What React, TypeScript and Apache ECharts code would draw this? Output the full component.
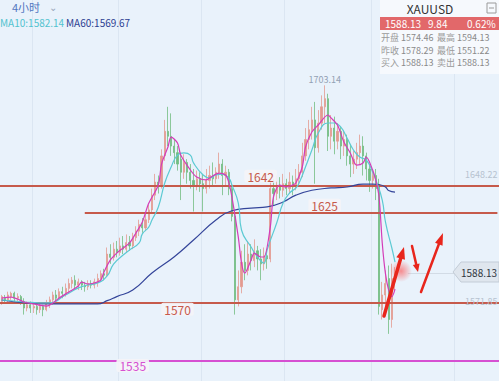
import React, { useEffect, useRef } from 'react';
import * as echarts from 'echarts';

// 4-hour bars (only the first 124 slots hold data; the rest is empty room on the right)
const categories: string[] = Array.from({ length: 156 }, (_, i) => `K${i + 1}`);

// [open, close, low, high]
const candles: number[][] = [
  [1571, 1574, 1569, 1575], [1573, 1572, 1570, 1575], [1572, 1575, 1570, 1577], [1574, 1576, 1572, 1577],
  [1576, 1573, 1571, 1577], [1573, 1574, 1571, 1576], [1574, 1571, 1569, 1575], [1571, 1567, 1563, 1573],
  [1567, 1569, 1565, 1571], [1569, 1567, 1564, 1571], [1567, 1568, 1564, 1570], [1568, 1566, 1563, 1570],
  [1566, 1568, 1564, 1570], [1568, 1566, 1562, 1569], [1566, 1570, 1565, 1572], [1569, 1572, 1567, 1574],
  [1572, 1575, 1569, 1577], [1575, 1573, 1571, 1578], [1573, 1577, 1572, 1579], [1577, 1576, 1573, 1580],
  [1576, 1579, 1574, 1582], [1579, 1582, 1576, 1585], [1582, 1584, 1579, 1586], [1584, 1581, 1579, 1587],
  [1581, 1583, 1578, 1585], [1583, 1581, 1578, 1584], [1581, 1580, 1577, 1583], [1580, 1582, 1578, 1584],
  [1582, 1581, 1579, 1584], [1581, 1583, 1579, 1585], [1583, 1585, 1580, 1588], [1585, 1588, 1583, 1590],
  [1588, 1587, 1584, 1591], [1587, 1600, 1586, 1604], [1600, 1598, 1594, 1606], [1598, 1603, 1596, 1607],
  [1603, 1601, 1598, 1608], [1601, 1605, 1599, 1610], [1605, 1603, 1600, 1611], [1603, 1607, 1601, 1612],
  [1607, 1605, 1602, 1611], [1605, 1610, 1603, 1613], [1610, 1614, 1608, 1617], [1614, 1618, 1611, 1621],
  [1618, 1616, 1613, 1622], [1616, 1621, 1614, 1625], [1621, 1627, 1619, 1630], [1627, 1636, 1625, 1640],
  [1636, 1644, 1633, 1649], [1644, 1642, 1637, 1648], [1642, 1660, 1640, 1664], [1660, 1675, 1657, 1682],
  [1675, 1672, 1666, 1690], [1672, 1666, 1660, 1686], [1666, 1662, 1655, 1670], [1662, 1655, 1651, 1666],
  [1658, 1650, 1633, 1662], [1650, 1656, 1646, 1661], [1656, 1650, 1643, 1658], [1650, 1645, 1640, 1655],
  [1645, 1642, 1626, 1652], [1642, 1646, 1639, 1651], [1646, 1643, 1638, 1650], [1643, 1640, 1626, 1649],
  [1640, 1645, 1637, 1652], [1645, 1648, 1640, 1654], [1648, 1646, 1641, 1656], [1646, 1650, 1643, 1653],
  [1650, 1655, 1646, 1662], [1655, 1648, 1636, 1658], [1648, 1650, 1641, 1654], [1650, 1640, 1636, 1652],
  [1640, 1623, 1620, 1643], [1623, 1572, 1563, 1625], [1572, 1580, 1568, 1590], [1580, 1595, 1576, 1602],
  [1595, 1590, 1584, 1606], [1590, 1600, 1587, 1608], [1600, 1596, 1590, 1606], [1596, 1602, 1592, 1609],
  [1602, 1597, 1590, 1605], [1597, 1594, 1584, 1603], [1594, 1599, 1590, 1604], [1599, 1597, 1591, 1603],
  [1597, 1640, 1595, 1647], [1640, 1637, 1630, 1646], [1637, 1642, 1633, 1648], [1642, 1639, 1634, 1647],
  [1639, 1643, 1635, 1649], [1643, 1640, 1636, 1646], [1640, 1644, 1637, 1650], [1644, 1641, 1636, 1648],
  [1641, 1646, 1639, 1652], [1646, 1650, 1641, 1655], [1650, 1660, 1647, 1668], [1660, 1670, 1657, 1677],
  [1670, 1676, 1664, 1682], [1676, 1682, 1670, 1690], [1682, 1665, 1643, 1693], [1665, 1680, 1662, 1688],
  [1680, 1690, 1676, 1697], [1690, 1695, 1680, 1703.14], [1695, 1672, 1663, 1698], [1672, 1677, 1664, 1685],
  [1677, 1669, 1661, 1684], [1669, 1675, 1664, 1680], [1675, 1666, 1658, 1678], [1666, 1670, 1660, 1675],
  [1670, 1660, 1654, 1673], [1660, 1655, 1647, 1667], [1655, 1658, 1649, 1663], [1658, 1662, 1652, 1668],
  [1662, 1666, 1655, 1673], [1666, 1660, 1648, 1672], [1660, 1652, 1645, 1662], [1652, 1645, 1638, 1655],
  [1645, 1648, 1640, 1651], [1648, 1640, 1633, 1652], [1641, 1568, 1563, 1646], [1566, 1575, 1560, 1583],
  [1575, 1582, 1563, 1590], [1585, 1560, 1551.22, 1593], [1560, 1585, 1555, 1594.13], [1583, 1588.13, 1578, 1592],
];

// Moving averages at the bars where they could be read
const ma5Idx = [0, 3, 5, 7, 10, 14, 16, 18, 21, 24, 25, 27, 29, 31, 32, 34, 36, 38, 40, 42, 44, 46, 49, 50, 52, 53, 55, 56, 59, 61, 64, 65, 68, 70, 71, 72, 74, 75, 76, 78, 79, 81, 82, 84, 85, 87, 89, 91, 92, 94, 95, 97, 99, 102, 103, 105, 107, 109, 111, 113, 114, 116, 117, 118, 119, 120, 121, 122, 123];
const ma5Val = [1573.1, 1573.7, 1572.5, 1570.7, 1569.5, 1568.2, 1570.1, 1573.1, 1576.8, 1580.5, 1582.9, 1581.7, 1582.3, 1584.1, 1589.0, 1596.4, 1600.6, 1603.7, 1606.8, 1612.9, 1619.6, 1631, 1642.2, 1655, 1665.4, 1671.5, 1667.9, 1660.5, 1651.4, 1647.1, 1645.3, 1646.5, 1649.5, 1648.3, 1644.0, 1634.9, 1610.4, 1594.5, 1588.4, 1596.4, 1600.6, 1598.2, 1598.2, 1616.5, 1634.9, 1642.2, 1641.0, 1642.2, 1643.4, 1653.2, 1665.4, 1674.6, 1678.9, 1685.0, 1683.2, 1678.9, 1668.5, 1661.8, 1654.4, 1655.7, 1659.3, 1651.4, 1645, 1635, 1606.8, 1588, 1578, 1574, 1578.6];

const ma10Idx = [0, 4, 7, 14, 15, 20, 24, 27, 30, 33, 35, 38, 40, 43, 44, 46, 47, 49, 51, 53, 55, 57, 59, 60, 63, 65, 67, 69, 71, 72, 74, 75, 78, 80, 82, 83, 86, 88, 90, 92, 93, 95, 97, 99, 102, 104, 106, 108, 110, 112, 114, 116, 117, 119, 120, 122, 123];
const ma10Val = [1571.9, 1571.3, 1570.7, 1570.1, 1570.1, 1575, 1579.3, 1581.1, 1582.3, 1586.6, 1593.9, 1599.4, 1602.5, 1606.8, 1612.3, 1616.5, 1620.8, 1628.8, 1643.4, 1653.2, 1660.5, 1661.8, 1660.5, 1655.7, 1648.3, 1646.5, 1648.3, 1648.9, 1646.5, 1642.2, 1631.2, 1614.7, 1604.3, 1598.2, 1594.5, 1602.5, 1619, 1631.2, 1637.3, 1640.4, 1643.4, 1653.2, 1663.6, 1674, 1680.1, 1680.1, 1677.7, 1670.9, 1663.6, 1659.3, 1657.5, 1650.2, 1645.3, 1633, 1619.6, 1603.7, 1595.1];

const ma60Idx = [0, 15, 30, 33, 36, 41, 47, 54, 60, 67, 72, 78, 83, 88, 92, 97, 103, 108, 113, 116, 118, 120, 121, 123];
const ma60Val = [1571.9, 1569.5, 1569.5, 1571.5, 1574, 1578, 1588.4, 1598.4, 1608.6, 1620.8, 1626.5, 1628.1, 1628.8, 1631.8, 1636, 1639, 1640.4, 1641, 1642.8, 1642.8, 1642.5, 1641, 1638.8, 1637.9];

// Support / resistance levels
const levelValues = [1642, 1625, 1570, 1535];
const levelStartIdx = [-1, 26, -1, -1];
const levelLabelIdx = [81, 101, 55, 41];
const levelLabelOffset = [-9, -8, 6, 5];
const levelColors = ['#c65a4b', '#c65a4b', '#c65a4b', '#d650d2'];

const lastPrice = 1588.13;
const peakHigh = 1703.14;
const peakIdx = 101;
const sideValues = [1648.22, 1571.85];

const gridLineIdx = [10, 37, 63, 89, 116, 142];

const FONT = '"Noto Sans CJK SC", "Noto Sans", sans-serif';

const pairs = (idx: number[], val: number[]) => idx.map((i, k) => [categories[i], val[k]]);

function arrow(x1: number, y1: number, x2: number, y2: number, headLen: number, headHalf: number, width: number) {
  const dx = x2 - x1, dy = y2 - y1;
  const len = Math.hypot(dx, dy);
  const ux = dx / len, uy = dy / len;
  const px = -uy, py = ux;
  const bx = x2 - ux * headLen, by = y2 - uy * headLen;
  const color = '#e8261c';
  return [
    { type: 'line', z: 120, shape: { x1, y1, x2: bx, y2: by }, style: { stroke: color, lineWidth: width, lineCap: 'round' } },
    { type: 'polygon', z: 120, shape: { points: [[x2, y2], [bx + px * headHalf, by + py * headHalf], [bx - px * headHalf, by - py * headHalf]] }, style: { fill: color } },
  ];
}

function txt(x: number, y: number, text: string, fill: string, size: number, align = 'left') {
  return { type: 'text', z: 110, x, y, style: { text, fill, font: `${size}px ${FONT}`, textAlign: align, textVerticalAlign: 'middle' } };
}

export default function App() {
  const ref = useRef<HTMLDivElement>(null);
  useEffect(() => {
    if (!ref.current) return;
    const chart = echarts.init(ref.current, null, { renderer: 'svg' });

    const markLineData: any[] = levelValues.map((v, i) => {
      const ls = { color: levelColors[i], width: 2, type: 'solid' };
      if (levelStartIdx[i] < 0) return { yAxis: v, lineStyle: ls };
      return [{ coord: [categories[levelStartIdx[i]], v], lineStyle: ls }, { coord: [categories[155], v] }];
    });
    markLineData.push([
      { coord: [categories[127], lastPrice], lineStyle: { color: '#d2dbe5', width: 1, type: 'solid' } },
      { coord: [categories[142], lastPrice] },
    ]);

    const markPointData: any[] = levelValues.map((v, i) => ({
      coord: [categories[levelLabelIdx[i]], v],
      label: {
        show: true,
        formatter: String(v),
        color: levelColors[i],
        fontSize: 12,
        fontFamily: FONT,
        backgroundColor: 'rgba(244,244,247,0.92)',
        padding: [1, 3, 0, 3],
        borderRadius: 2,
        offset: [0, levelLabelOffset[i]],
      },
    }));
    markPointData.push({
      coord: [categories[peakIdx], peakHigh],
      label: { show: true, formatter: String(peakHigh), color: '#93a1b4', fontSize: 9, fontFamily: FONT, offset: [0, -6] },
    });
    sideValues.forEach((v, k) => {
      markPointData.push({
        coord: [categories[155], v],
        label: { show: true, formatter: v.toFixed(2), color: '#b7c3d0', fontSize: 9, fontFamily: FONT, align: 'right', offset: [0, k === 0 ? -1 : 1] },
      });
    });

    const glow = new echarts.graphic.RadialGradient(0.5, 0.5, 0.5, [
      { offset: 0, color: 'rgba(255,70,70,0.6)' },
      { offset: 1, color: 'rgba(255,70,70,0)' },
    ]);

    const graphic: any[] = [
      // top-left header
      txt(12, 7, '4小时', '#5176c0', 11),
      txt(49, 6, '⌄', '#9aa8bb', 10),
      txt(0, 22, 'MA10:1582.14', '#52c3cf', 10),
      txt(66, 22, 'MA60:1569.67', '#2d3f92', 10),
      // quote panel
      { type: 'rect', z: 105, shape: { x: 380, y: 0, width: 119, height: 74 }, style: { fill: '#f6f9fd' } },
      txt(430, 8, 'XAUUSD', '#333333', 12, 'center'),
      { type: 'rect', z: 110, shape: { x: 487, y: 3, width: 9, height: 10 }, style: { fill: 'none', stroke: '#9a9a9a', lineWidth: 1 } },
      { type: 'line', z: 110, shape: { x1: 489, y1: 8, x2: 494, y2: 8 }, style: { stroke: '#9a9a9a', lineWidth: 1 } },
      { type: 'rect', z: 106, shape: { x: 380, y: 17, width: 119, height: 13 }, style: { fill: '#e2686a' } },
      txt(385, 23.5, '1588.13', '#ffffff', 10),
      txt(428, 23.5, '9.84', '#ffffff', 10),
      txt(467, 23.5, '0.62%', '#ffffff', 10),
      txt(381, 37, '开盘', '#9a9a9a', 9), txt(401, 37, '1574.46', '#8a8a8a', 9),
      txt(437, 37, '最高', '#9a9a9a', 9), txt(457, 37, '1594.13', '#8a8a8a', 9),
      txt(381, 50, '昨收', '#9a9a9a', 9), txt(401, 50, '1578.29', '#8a8a8a', 9),
      txt(437, 50, '最低', '#9a9a9a', 9), txt(457, 50, '1551.22', '#8a8a8a', 9),
      txt(381, 62, '买入', '#9a9a9a', 9), txt(401, 62, '1588.13', '#8a8a8a', 9),
      txt(437, 62, '卖出', '#9a9a9a', 9), txt(457, 62, '1588.13', '#8a8a8a', 9),
      // last price tag
      { type: 'polygon', z: 110, shape: { points: [[453, 272], [461, 262], [499, 262], [499, 282], [461, 282]] }, style: { fill: '#dfe6ee', stroke: '#c3ccd7', lineWidth: 1 } },
      txt(461, 272, '1588.13', '#2f3640', 10),
      // annotation
      { type: 'circle', z: 115, shape: { cx: 401, cy: 271, r: 11 }, style: { fill: glow } },
      ...arrow(384, 316, 404, 247, 12, 4.5, 3.5),
      ...arrow(412, 246, 418, 272, 8, 3.5, 2.5),
      ...arrow(421, 292, 443, 233, 12, 4, 2.5),
    ];

    chart.setOption({
      animation: false,
      backgroundColor: '#e9f2fb',
      grid: { left: 0, right: 0, top: 0, bottom: 0 },
      xAxis: {
        type: 'category',
        data: categories,
        boundaryGap: true,
        axisLine: { show: false },
        axisTick: { show: false },
        axisLabel: { show: false },
        splitLine: { show: true, interval: (i: number) => gridLineIdx.includes(i), lineStyle: { color: '#dbe6f2', width: 1 } },
      },
      yAxis: {
        type: 'value',
        min: 1522.4,
        max: 1755.3,
        axisLine: { show: false },
        axisTick: { show: false },
        axisLabel: { show: false },
        splitLine: { show: false },
      },
      series: [
        {
          type: 'candlestick',
          data: candles,
          barWidth: 1.6,
          itemStyle: { color: '#e39a90', color0: '#72bd82', borderColor: '#e39a90', borderColor0: '#72bd82', borderWidth: 0.8 },
          markLine: { symbol: ['none', 'none'], silent: true, label: { show: false }, data: markLineData, z: 3 },
          markPoint: { symbol: 'rect', symbolSize: 1, itemStyle: { color: 'rgba(0,0,0,0)' }, silent: true, data: markPointData },
        },
        { type: 'line', data: pairs(ma60Idx, ma60Val), smooth: true, showSymbol: false, lineStyle: { color: '#34459a', width: 1.2 }, z: 4 },
        { type: 'line', data: pairs(ma10Idx, ma10Val), smooth: true, showSymbol: false, lineStyle: { color: '#5ccad3', width: 1.2 }, z: 4 },
        { type: 'line', data: pairs(ma5Idx, ma5Val), smooth: 0.3, showSymbol: false, lineStyle: { color: '#d43cb8', width: 1.2 }, z: 4 },
      ],
      graphic,
    });
    return () => chart.dispose();
  }, []);
  return <div ref={ref} style={{ position: 'fixed', left: 0, top: 0, width: 499, height: 381 }} />;
}
